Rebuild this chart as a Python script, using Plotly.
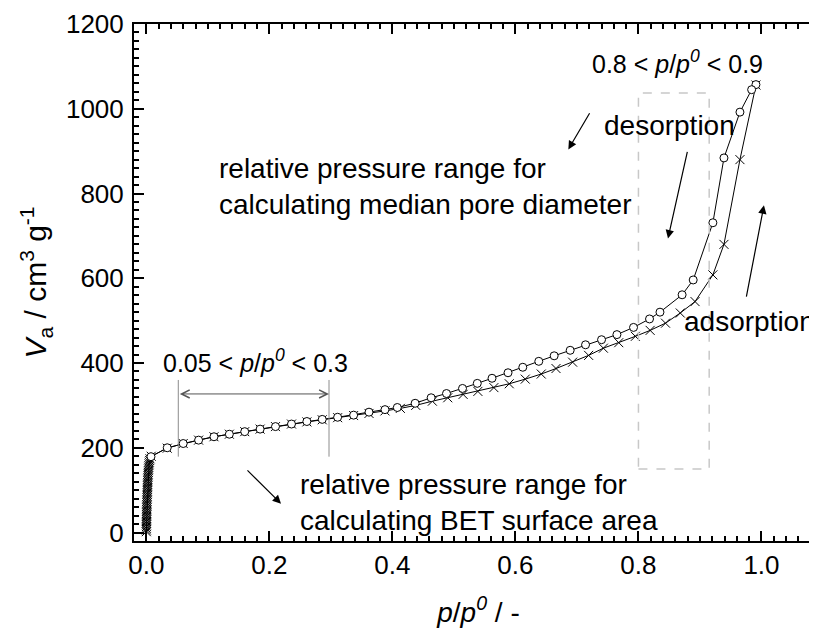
import plotly.graph_objects as go

# adsorption branch (crosses)
ads_p = [0.0000, 0.0001, 0.0001, 0.0002, 0.0002, 0.0003, 0.0003, 0.0004, 0.0004, 0.0005,
         0.0005, 0.0006, 0.0006, 0.0007, 0.0007, 0.0008, 0.0009, 0.0010, 0.0011, 0.0012,
         0.0013, 0.0014, 0.0015, 0.0016, 0.0017, 0.0018, 0.0019, 0.0020, 0.0021, 0.0022,
         0.0023, 0.0024, 0.0026, 0.0028, 0.0030, 0.0032, 0.0034, 0.0036, 0.0039, 0.0042,
         0.0045, 0.0049, 0.0054, 0.0060,
         0.008, 0.034, 0.060, 0.085, 0.110, 0.135, 0.160, 0.185, 0.210, 0.236,
         0.261, 0.286, 0.311, 0.337, 0.362, 0.388, 0.413, 0.438, 0.465, 0.490,
         0.515, 0.539, 0.565, 0.590, 0.616, 0.642, 0.666, 0.693, 0.719, 0.743,
         0.768, 0.795, 0.819, 0.844, 0.868, 0.892, 0.921, 0.939, 0.965, 0.991]
ads_v = [2, 6, 10, 14, 18, 22, 26, 30, 34, 38,
         42, 46, 50, 54, 58, 62, 66, 70, 74, 78,
         82, 86, 90, 94, 98, 102, 106, 110, 114, 118,
         122, 126, 130, 134, 138, 142, 146, 150, 154, 158,
         162, 166, 170, 174,
         180, 199, 210, 218, 226, 232, 238, 244, 250, 256,
         261, 266, 271, 276, 281, 287, 293, 300, 310, 318,
         326, 333, 342, 351, 362, 374, 387, 402, 418, 435,
         448, 463, 477, 494, 518, 545, 608, 680, 880, 1056]

# desorption branch (open circles)
des_p = [0.991, 0.984, 0.965, 0.939, 0.921, 0.889, 0.871, 0.835, 0.818, 0.792,
         0.765, 0.740, 0.714, 0.689, 0.663, 0.638, 0.612, 0.588, 0.562, 0.538,
         0.514, 0.488, 0.463, 0.437, 0.408, 0.388, 0.362, 0.337, 0.311, 0.286,
         0.261, 0.236, 0.210, 0.185, 0.160, 0.135, 0.110, 0.085, 0.060, 0.034, 0.0076]
des_v = [1057, 1045, 992, 884, 731, 596, 561, 520, 504, 484,
         467, 455, 443, 430, 417, 404, 390, 377, 364, 352,
         340, 328, 318, 305, 295, 290, 284, 277, 272, 267,
         262, 256, 250, 244, 238, 232, 226, 218, 210, 200, 179]

x_ticks = [0.0, 0.2, 0.4, 0.6, 0.8, 1.0]
y_ticks = [0, 200, 400, 600, 800, 1000, 1200]

# marked ranges
bet_range = (0.052, 0.297)
mpd_range = (0.8, 0.915)

FONT = "Liberation Sans, Arial, sans-serif"

fig = go.Figure()

fig.add_trace(go.Scatter(
    x=ads_p, y=ads_v, mode='lines+markers', name='adsorption',
    line=dict(color='black', width=1),
    marker=dict(symbol='x-thin', size=9, line=dict(color='black', width=1)),
))
fig.add_trace(go.Scatter(
    x=des_p, y=des_v, mode='lines+markers', name='desorption',
    line=dict(color='black', width=1),
    marker=dict(symbol='circle', size=8, color='white', line=dict(color='black', width=1)),
))

# BET range brackets and dashed box for the median pore diameter range
for xv in bet_range:
    fig.add_shape(type='line', x0=xv, x1=xv, y0=179, y1=360,
                  line=dict(color='#8c8c8c', width=1))
fig.add_shape(type='rect', x0=mpd_range[0], x1=mpd_range[1], y0=150, y1=1037,
              line=dict(color='#c8c8c8', width=1.5, dash='dash'))

txt = dict(font=dict(family=FONT, size=28, color='black'), showarrow=False)
rng = dict(font=dict(family=FONT, size=25, color='black'), showarrow=False)
annotations = [
    dict(x=0.178, y=404, text="0.05 &lt; <i>p</i>/<i>p</i><sup><i>0</i></sup> &lt; 0.3",
         xanchor='center', yanchor='middle', **rng),
    dict(x=0.864, y=1110, text="0.8 &lt; <i>p</i>/<i>p</i><sup><i>0</i></sup> &lt; 0.9",
         xanchor='center', yanchor='middle', **rng),
    dict(x=0.115, y=816, text="relative pressure range for<br>calculating median pore diameter",
         xanchor='left', yanchor='middle', align='left', **txt),
    dict(x=0.247, y=72, text="relative pressure range for<br>calculating BET surface area",
         xanchor='left', yanchor='middle', align='left', **txt),
    dict(x=0.740, y=960, text="desorption", xanchor='left', yanchor='middle', **txt),
    dict(x=0.870, y=497, text="adsorption", xanchor='left', yanchor='middle', **txt),
]

arrow = dict(text='', showarrow=True, axref='x', ayref='y', arrowcolor='black',
             arrowhead=2, arrowsize=1.4, arrowwidth=1.2, standoff=0)
annotations += [
    dict(x=0.219, y=68, ax=0.162, ay=150, **arrow),
    dict(x=0.686, y=904, ax=0.722, ay=993, **arrow),
    dict(x=0.848, y=694, ax=0.880, ay=902, **arrow),
    dict(x=1.004, y=772, ax=0.975, ay=553, **arrow),
    dict(x=bet_range[1], y=327, ax=bet_range[0], ay=327, text='', showarrow=True,
         axref='x', ayref='y', arrowcolor='#555555', arrowhead=5, startarrowhead=5,
         arrowside='end+start', arrowsize=1.6, startarrowsize=1.6, arrowwidth=1,
         standoff=0, startstandoff=0),
]

axis_common = dict(
    showline=True, linecolor='black', linewidth=2, mirror='allticks',
    ticks='inside', ticklen=10, tickwidth=2, tickcolor='black',
    showgrid=False, zeroline=False, automargin=False,
    tickfont=dict(family=FONT, size=26, color='black'),
)

# the page body adds an 8px offset, so the right frame edge falls just past the window
fig.update_layout(
    width=817, height=642,
    margin=dict(l=126, r=2, t=16, b=109),
    plot_bgcolor='white', paper_bgcolor='white',
    showlegend=False,
    font=dict(family=FONT, color='black'),
    xaxis=dict(
        range=[-0.02, 1.1], tickvals=x_ticks, tickformat='.1f',
        minor=dict(dtick=0.02, tick0=0, ticks='inside', ticklen=5, tickwidth=2, tickcolor='black'),
        title=dict(text="<i>p</i>/<i>p</i><sup><i>0</i></sup> / -",
                   font=dict(family=FONT, size=28), standoff=23),
        **axis_common,
    ),
    yaxis=dict(
        range=[-20, 1200], tickvals=y_ticks, ticklabelstandoff=3,
        ticklabeloverflow='allow',
        minor=dict(dtick=20, tick0=0, ticks='inside', ticklen=5, tickwidth=2, tickcolor='black'),
        title=dict(text="<i>V</i><sub>a</sub> / cm<sup>3</sup> g<sup>-1</sup>",
                   font=dict(family=FONT, size=30), standoff=10),
        **axis_common,
    ),
    annotations=annotations,
)

fig.write_html("out.html")
